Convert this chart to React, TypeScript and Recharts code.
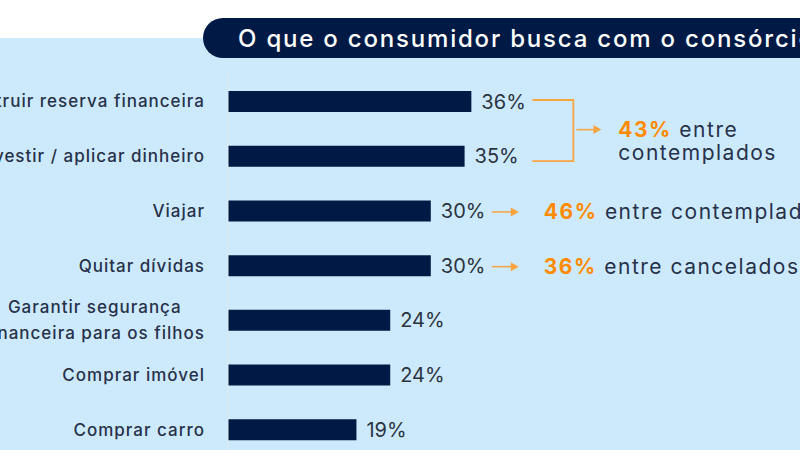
import React from 'react';
import { BarChart, Bar, XAxis, YAxis, LabelList } from 'recharts';

// what consumers look for in a consórcio, share of answers (%)
const categories = [
  'Construir reserva financeira',
  'Investir / aplicar dinheiro',
  'Viajar',
  'Quitar dívidas',
  'Garantir segurança\nfinanceira para os filhos',
  'Comprar imóvel',
  'Comprar carro',
];
const shares = [36, 35, 30, 30, 24, 24, 19];

// call-outs on the right
const bracketRows = [0, 1];
const bracketPct = '43%';
const bracketText = ['entre', 'contemplados'];
const arrowRows = [2, 3];
const arrowPct = ['46%', '36%'];
const arrowText = ['entre contemplados', 'entre cancelados'];

const TITLE = 'O que o consumidor busca com o consórcio';

const NAVY = '#001a45';
const BG = '#cdeafc';
const ORANGE = '#ff8a00';
const LINE_ORANGE = '#f8a440';
const TEXT = '#27314a';
const FONT = 'Inter, "Open Sans", sans-serif';
const LABEL_SIZE = 17;
const LABEL_SPACING = 1;
const NOTE_SIZE = 21;
const NOTE_SPACING = 1.5;

const CHART_H = 470;
const MARGIN = { top: 74, right: 234, bottom: 13, left: 0 };
const BAND = (CHART_H - MARGIN.top - MARGIN.bottom) / categories.length;

const rows = categories.map((label, i) => ({ label, share: shares[i] }));

let ctx: CanvasRenderingContext2D | null = null;
const textWidth = (s: string, font: string, spacing: number) => {
  if (!ctx) ctx = document.createElement('canvas').getContext('2d');
  if (!ctx) return s.length * 9;
  ctx.font = font;
  return ctx.measureText(s).width + spacing * s.length;
};

// labels are centred as a block whose right edge sits on the tick position
const CategoryTick = (props: any) => {
  const { x, y, payload } = props;
  const lines = String(payload.value).split('\n');
  const block = Math.max(...lines.map((l) => textWidth(l, `500 ${LABEL_SIZE}px Inter`, LABEL_SPACING)));
  const cx = x - block / 2;
  const lineH = 26;
  const top = y - ((lines.length - 1) * lineH) / 2;
  return (
    <g>
      {lines.map((l, i) => (
        <text
          key={i}
          x={cx}
          y={top + i * lineH}
          textAnchor="middle"
          dominantBaseline="central"
          fill={TEXT}
          fontSize={LABEL_SIZE}
          fontWeight={500}
          fontFamily={FONT}
          letterSpacing={LABEL_SPACING}
        >
          {l}
        </text>
      ))}
    </g>
  );
};

const Arrow = ({ x1, x2, y }: { x1: number; x2: number; y: number }) => (
  <g>
    <line x1={x1} y1={y} x2={x2 - 7} y2={y} stroke={LINE_ORANGE} strokeWidth={1.5} />
    <path d={`M${x2 - 8},${y - 4.5} L${x2},${y} L${x2 - 8},${y + 4.5} Z`} fill={LINE_ORANGE} />
  </g>
);

const ShareLabel = (props: any) => {
  const vb = props.x !== undefined ? props : props.viewBox || {};
  const { x, y, width, height } = vb;
  const index: number = props.index;
  const value = shares[index];
  const cy = y + height / 2;
  const end = x + width;
  const pxPer = width / value;
  const noteProps = {
    fontSize: NOTE_SIZE,
    fontFamily: FONT,
    fill: TEXT,
    letterSpacing: NOTE_SPACING,
  };

  let extra: React.ReactNode = null;
  if (index === bracketRows[0]) {
    const groupEnd = x + Math.max(...bracketRows.map((r) => shares[r])) * pxPer;
    const left = groupEnd + 61;
    const vx = left + 41;
    const top = cy - 1.5;
    const bottom = cy + BAND * (bracketRows.length - 1) + 5;
    const mid = (top + bottom) / 2 - 1;
    extra = (
      <g>
        <path
          d={`M${left},${top} H${vx} V${bottom} H${left}`}
          fill="none"
          stroke={LINE_ORANGE}
          strokeWidth={1.8}
        />
        <Arrow x1={vx + 3} x2={vx + 28} y={mid} />
        <text x={vx + 45} y={mid + 7} {...noteProps}>
          <tspan fill={ORANGE} fontWeight={700}>{bracketPct}</tspan>
          <tspan> {bracketText[0]}</tspan>
        </text>
        <text x={vx + 45} y={mid + 30} {...noteProps}>
          {bracketText[1]}
        </text>
      </g>
    );
  }
  const a = arrowRows.indexOf(index);
  if (a >= 0) {
    extra = (
      <g>
        <Arrow x1={end + 61} x2={end + 88} y={cy + 1} />
        <text x={end + 113} y={cy} dominantBaseline="central" {...noteProps}>
          <tspan fill={ORANGE} fontWeight={700}>{arrowPct[a]}</tspan>
          <tspan> {arrowText[a]}</tspan>
        </text>
      </g>
    );
  }

  return (
    <g>
      <text
        x={end + 10}
        y={cy}
        dominantBaseline="central"
        fontSize={20}
        fontFamily={FONT}
        fill="#2b3340"
      >
        {value}%
      </text>
      {extra}
    </g>
  );
};

export default function App() {
  return (
    <div
      style={{
        position: 'absolute',
        left: 0,
        top: 0,
        width: 800,
        height: 450,
        overflow: 'hidden',
        background: '#fff',
        fontFamily: FONT,
      }}
    >
      <div style={{ position: 'absolute', left: 0, top: 38, width: 800, height: 412, background: BG }} />
      <div
        style={{
          position: 'absolute',
          left: 203,
          top: 18,
          width: 700,
          height: 40,
          borderRadius: 20,
          background: NAVY,
          display: 'flex',
          alignItems: 'center',
        }}
      >
        <span
          style={{
            marginLeft: 35,
            color: '#fff',
            fontSize: 24,
            fontWeight: 500,
            letterSpacing: 1.8,
            whiteSpace: 'nowrap',
          }}
        >
          {TITLE}
        </span>
      </div>
      <div style={{ position: 'absolute', left: 0, top: 0 }}>
        <BarChart width={800} height={CHART_H} layout="vertical" data={rows} margin={MARGIN}>
          <XAxis type="number" domain={[0, 50]} hide />
          <YAxis
            type="category"
            dataKey="label"
            width={228}
            axisLine={{ stroke: '#e3e9ef', strokeWidth: 1 }}
            tickLine={false}
            tickSize={0}
            tickMargin={23}
            tick={<CategoryTick />}
            interval={0}
          />
          <Bar dataKey="share" fill={NAVY} barSize={21} isAnimationActive={false}>
            <LabelList dataKey="share" content={<ShareLabel />} />
          </Bar>
        </BarChart>
      </div>
    </div>
  );
}
